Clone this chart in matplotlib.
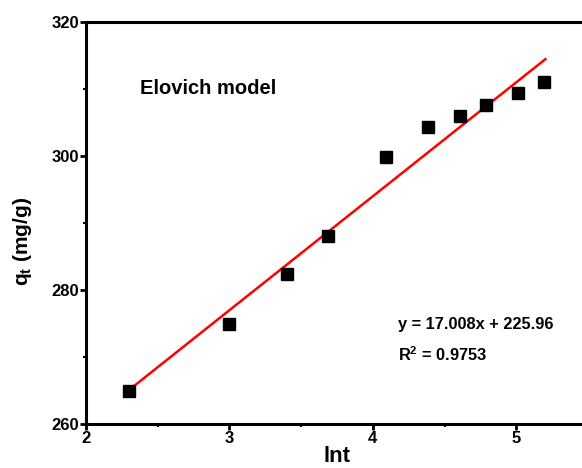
import matplotlib
matplotlib.use("Agg")
import matplotlib.pyplot as plt
import numpy as np

# ln t values and adsorbed amount q_t
lnt = [2.303, 2.996, 3.401, 3.689, 4.094, 4.382, 4.605, 4.787, 5.011, 5.193]
qt = [264.9, 274.9, 282.4, 288.1, 299.9, 304.3, 306.0, 307.6, 309.4, 311.0]

# linear fit reported on the chart
slope = 17.008
intercept = 225.96
r2 = 0.9753

plt.rcParams['font.family'] = ['Liberation Sans', 'DejaVu Sans']
plt.rcParams['font.weight'] = 'bold'

fig = plt.figure(figsize=(5.82, 4.68), dpi=100)
# axes runs a bit past the right edge, like the original
ax = fig.add_axes([86 / 582, 44 / 468, 502 / 582, 402 / 468])

ax.plot(lnt, qt, 's', color='black', markersize=8.5, zorder=3)
xfit = np.array([lnt[0], lnt[-1] + 0.01])
ax.plot(xfit, slope * xfit + intercept, color='red', linewidth=1.8, zorder=2)

ax.set_xlim(2, 5.5)
ax.set_ylim(260, 320)
ax.set_xticks([2, 3, 4, 5])
ax.set_xticks([2.5, 3.5, 4.5], minor=True)
ax.set_yticks([260, 280, 300, 320])
ax.set_yticks([270, 290, 310], minor=True)

for s in ax.spines.values():
    s.set_linewidth(2.2)
ax.spines['right'].set_visible(False)

ax.tick_params(which='major', direction='out', length=4, width=2, labelsize=12, pad=1)
ax.tick_params(which='minor', direction='out', length=2.5, width=1.5)
for lab in ax.get_xticklabels() + ax.get_yticklabels():
    lab.set_fontweight('bold')

ax.set_xlabel('lnt', fontsize=16, fontweight='bold', labelpad=0)
ax.set_ylabel(r'q$_\mathregular{t}$ (mg/g)', fontsize=15, fontweight='bold')
ax.yaxis.set_label_coords(-0.104, 0.455)

ax.text(2.377, 310.1, 'Elovich model', fontsize=14.5, fontweight='bold', va='center')
ax.text(4.177, 274.8, 'y = 17.008x + 225.96', fontsize=11.8, fontweight='bold', va='center')
ax.text(4.177, 270.3, r'R$^\mathregular{2}$ = ' + f'{r2}', fontsize=11.8, fontweight='bold', va='center')

fig.savefig('out.png', dpi=100)
